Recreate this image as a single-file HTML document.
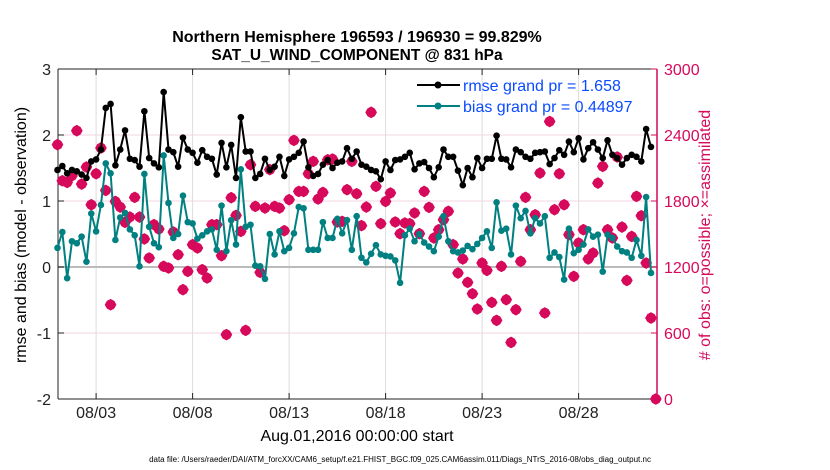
<!DOCTYPE html>
<html><head><meta charset="utf-8"><style>
body{margin:0;background:#fff;}
svg{display:block;font-family:"Liberation Sans",Arial,sans-serif;}
</style></head><body>
<svg id="chart" width="830" height="470" viewBox="0 0 830 470" xmlns="http://www.w3.org/2000/svg">
<rect x="0" y="0" width="830" height="470" fill="#fff"/>
<text x="357" y="42" font-size="16" font-weight="bold" text-anchor="middle">Northern Hemisphere 196593 / 196930 = 99.829%</text>
<text x="357" y="60" font-size="15.5" font-weight="bold" text-anchor="middle">SAT_U_WIND_COMPONENT @ 831 hPa</text>
<g id="grid"></g>
<g id="axes"></g>
<g id="obs"></g>
<g id="series"></g>
<g id="legend">
 <line x1="417" y1="85" x2="460" y2="85" stroke="#000" stroke-width="2"/>
 <circle cx="438" cy="85" r="3.5" fill="#000"/>
 <text x="463" y="91" font-size="16" fill="#0a4bff">rmse grand pr = 1.658</text>
 <line x1="417" y1="106" x2="460" y2="106" stroke="#008080" stroke-width="2"/>
 <circle cx="438" cy="106" r="3.5" fill="#008080"/>
 <text x="463" y="112" font-size="16" fill="#0a4bff">bias grand pr = 0.44897</text>
</g>
<text x="357" y="441" font-size="16" text-anchor="middle">Aug.01,2016 00:00:00 start</text>
<text x="400" y="462" font-size="8" text-anchor="middle">data file: /Users/raeder/DAI/ATM_forcXX/CAM6_setup/f.e21.FHIST_BGC.f09_025.CAM6assim.011/Diags_NTrS_2016-08/obs_diag_output.nc</text>
<text transform="translate(26,235) rotate(-90)" font-size="16" text-anchor="middle">rmse and bias (model - observation)</text>
<text transform="translate(710,235) rotate(-90)" font-size="16" fill="#d6095b" text-anchor="middle"># of obs: o=possible; ×=assimilated</text>
</svg>
<script>
const rmseValues = [1.47,1.53,1.42,1.47,1.45,1.40,1.35,1.60,1.63,1.78,2.41,2.47,1.54,1.78,2.07,1.64,1.62,1.52,2.36,1.65,1.57,1.51,2.65,1.78,1.74,1.52,1.96,1.78,1.73,1.58,1.77,1.67,
1.64,1.40,1.88,1.51,1.85,1.35,2.27,1.75,1.75,1.35,1.41,1.64,1.47,1.52,1.67,1.38,1.63,1.67,1.73,1.90,1.51,1.38,1.41,1.55,1.62,1.50,1.58,1.60,1.80,1.64,1.75,
1.55,1.52,1.47,1.45,1.33,1.60,1.47,1.62,1.63,1.67,1.73,1.48,1.57,1.59,1.50,1.36,1.51,1.78,1.67,1.67,1.46,1.24,1.50,1.36,1.65,1.50,1.64,1.64,1.99,1.64,1.63,
1.51,1.78,1.74,1.67,1.64,1.73,1.74,1.75,1.56,1.65,1.77,1.70,1.90,1.74,1.95,1.63,1.80,1.89,1.78,1.65,1.92,1.70,1.65,1.55,1.65,1.70,1.67,1.60,2.09,1.82];
const biasValues = [0.29,0.53,-0.17,0.39,0.36,0.46,0.08,0.81,0.54,0.94,1.57,1.42,0.41,0.75,0.82,0.57,0.48,0.01,1.41,0.61,0.36,0.30,1.69,0.97,0.44,0.50,1.08,0.68,0.66,0.43,0.48,0.54,
0.57,0.26,0.93,0.24,0.71,0.34,1.48,0.61,0.64,0.02,0.01,-0.18,0.50,0.19,0.54,0.24,0.29,0.51,0.91,0.89,0.26,0.26,0.26,0.68,0.44,0.44,0.73,0.51,0.71,0.26,0.77,
0.14,0.07,0.20,0.33,0.19,0.17,0.16,0.10,-0.24,0.48,0.58,0.39,0.50,0.37,0.31,0.24,0.46,0.77,0.39,0.24,0.22,0.25,0.32,0.27,0.35,0.44,0.54,0.29,0.98,0.55,0.58,
0.19,0.93,0.74,0.85,0.51,0.74,0.66,0.77,0.14,0.22,0.15,-0.19,0.58,0.21,0.26,0.34,0.57,0.46,0.49,-0.07,0.49,0.44,0.31,0.24,0.22,0.14,0.41,0.17,1.06,-0.09];
const obsCounts = [2312,1984,1969,2030,2439,1954,2109,1766,2048,2282,1896,857,1796,1745,1606,1654,1833,1654,1455,1282,1585,1545,1206,1191,1518,1312,994,1160,1403,1373,1176,1100,
1585,1585,1303,585,1830,1669,1524,624,2130,1751,1151,1736,2085,1751,1736,1530,1812,2351,1887,1887,2048,2160,1818,1878,2175,2181,1609,1615,1903,2160,1866,
1576,1745,2606,1933,1594,1796,1873,1609,1503,1600,1594,1691,1503,1887,1742,1464,1539,1630,1706,1403,1145,1273,1060,957,818,1236,1169,878,715,1206,903,
514,812,1251,1833,1539,1675,2054,782,2523,1721,2048,1766,1494,1115,1418,1539,1273,1327,1963,2115,1539,1464,2200,1563,1078,1478,1842,1666,1236,736,0];
const leftTicks = [3,2,1,0,-1,-2];
const rightTicks = [3000,2400,1800,1200,600,0];
const dateTicks = [2,7,12,17,22,27];
const dateLabels = ["08/03","08/08","08/13","08/18","08/23","08/28"];
const stepDays = 0.25;

const NS="http://www.w3.org/2000/svg";
const L=58,R=657,T=69,B=399;
const xd=d=>57.5+d*19.3;
const yl=v=>T+(3-v)*(B-T)/5;
const yr=c=>B-c*(B-T)/3000;
function mk(tag,attrs,parent){const e=document.createElementNS(NS,tag);for(const k in attrs)e.setAttribute(k,attrs[k]);parent.appendChild(e);return e;}
const grid=document.getElementById('grid'),axes=document.getElementById('axes'),obs=document.getElementById('obs'),ser=document.getElementById('series');
mk('rect',{x:L,y:T,width:R-L,height:B-T,fill:'#fff'},grid);
leftTicks.forEach(v=>{if(v!==0&&v!==3&&v!==-2){const ln=mk('line',{x1:L,x2:R,y1:yl(v),y2:yl(v),stroke:'#f0d6e0','stroke-width':1},grid);

}});
dateTicks.forEach((d,i)=>{const ln=mk('line',{x1:xd(d),x2:xd(d),y1:T,y2:B,stroke:'#dcdcdc','stroke-width':1},grid);


mk('line',{x1:xd(d),x2:xd(d),y1:B,y2:B-6,stroke:'#222'},axes);mk('line',{x1:xd(d),x2:xd(d),y1:T,y2:T+6,stroke:'#222'},axes);
const t=mk('text',{x:xd(d),y:418,'font-size':16,'text-anchor':'middle',fill:'#222'},axes);t.textContent=dateLabels[i];

});
const zl=mk('line',{x1:L,x2:R,y1:yl(0),y2:yl(0),stroke:'#bbb','stroke-width':2},grid);


mk('line',{x1:L,x2:R,y1:T,y2:T,stroke:'#222'},axes);
mk('line',{x1:L,x2:R,y1:B,y2:B,stroke:'#222'},axes);
mk('line',{x1:L,x2:L,y1:T,y2:B,stroke:'#222'},axes);
mk('line',{x1:R,x2:R,y1:T,y2:B,stroke:'#d6095b','stroke-width':1.5},axes);
leftTicks.forEach(v=>{mk('line',{x1:L,x2:L+6,y1:yl(v),y2:yl(v),stroke:'#222'},axes);
const t=mk('text',{x:51,y:yl(v)+6,'font-size':16,'text-anchor':'end',fill:'#222'},axes);t.textContent=v;

});
rightTicks.forEach(c=>{mk('line',{x1:R-6,x2:R,y1:yr(c),y2:yr(c),stroke:'#d6095b'},axes);
const t=mk('text',{x:664,y:yr(c)+6,'font-size':16,fill:'#d6095b'},axes);t.textContent=c;

});
obsCounts.forEach((c,i)=>{const x=xd(i*stepDays),y=yr(c),r=5,s=3.2;
const p=mk('polygon',{points:`${x},${y-r} ${x+s},${y-s} ${x+r},${y} ${x+s},${y+s} ${x},${y+r} ${x-s},${y+s} ${x-r},${y} ${x-s},${y-s}`,fill:'#d6095b',stroke:'#d6095b','stroke-width':1.5,'stroke-linejoin':'round'},obs);

});
function line(vals,color,name){
const pts=vals.map((v,i)=>xd(i*stepDays).toFixed(1)+','+yl(v).toFixed(1)).join(' ');
const pl=mk('polyline',{points:pts,fill:'none',stroke:color,'stroke-width':2},ser);


vals.forEach((v,i)=>{const c=mk('circle',{cx:xd(i*stepDays),cy:yl(v),r:3.3,fill:color},ser);

});}
line(biasValues,'#008080','bias');
line(rmseValues,'#000','rmse');
</script>
</body></html>
